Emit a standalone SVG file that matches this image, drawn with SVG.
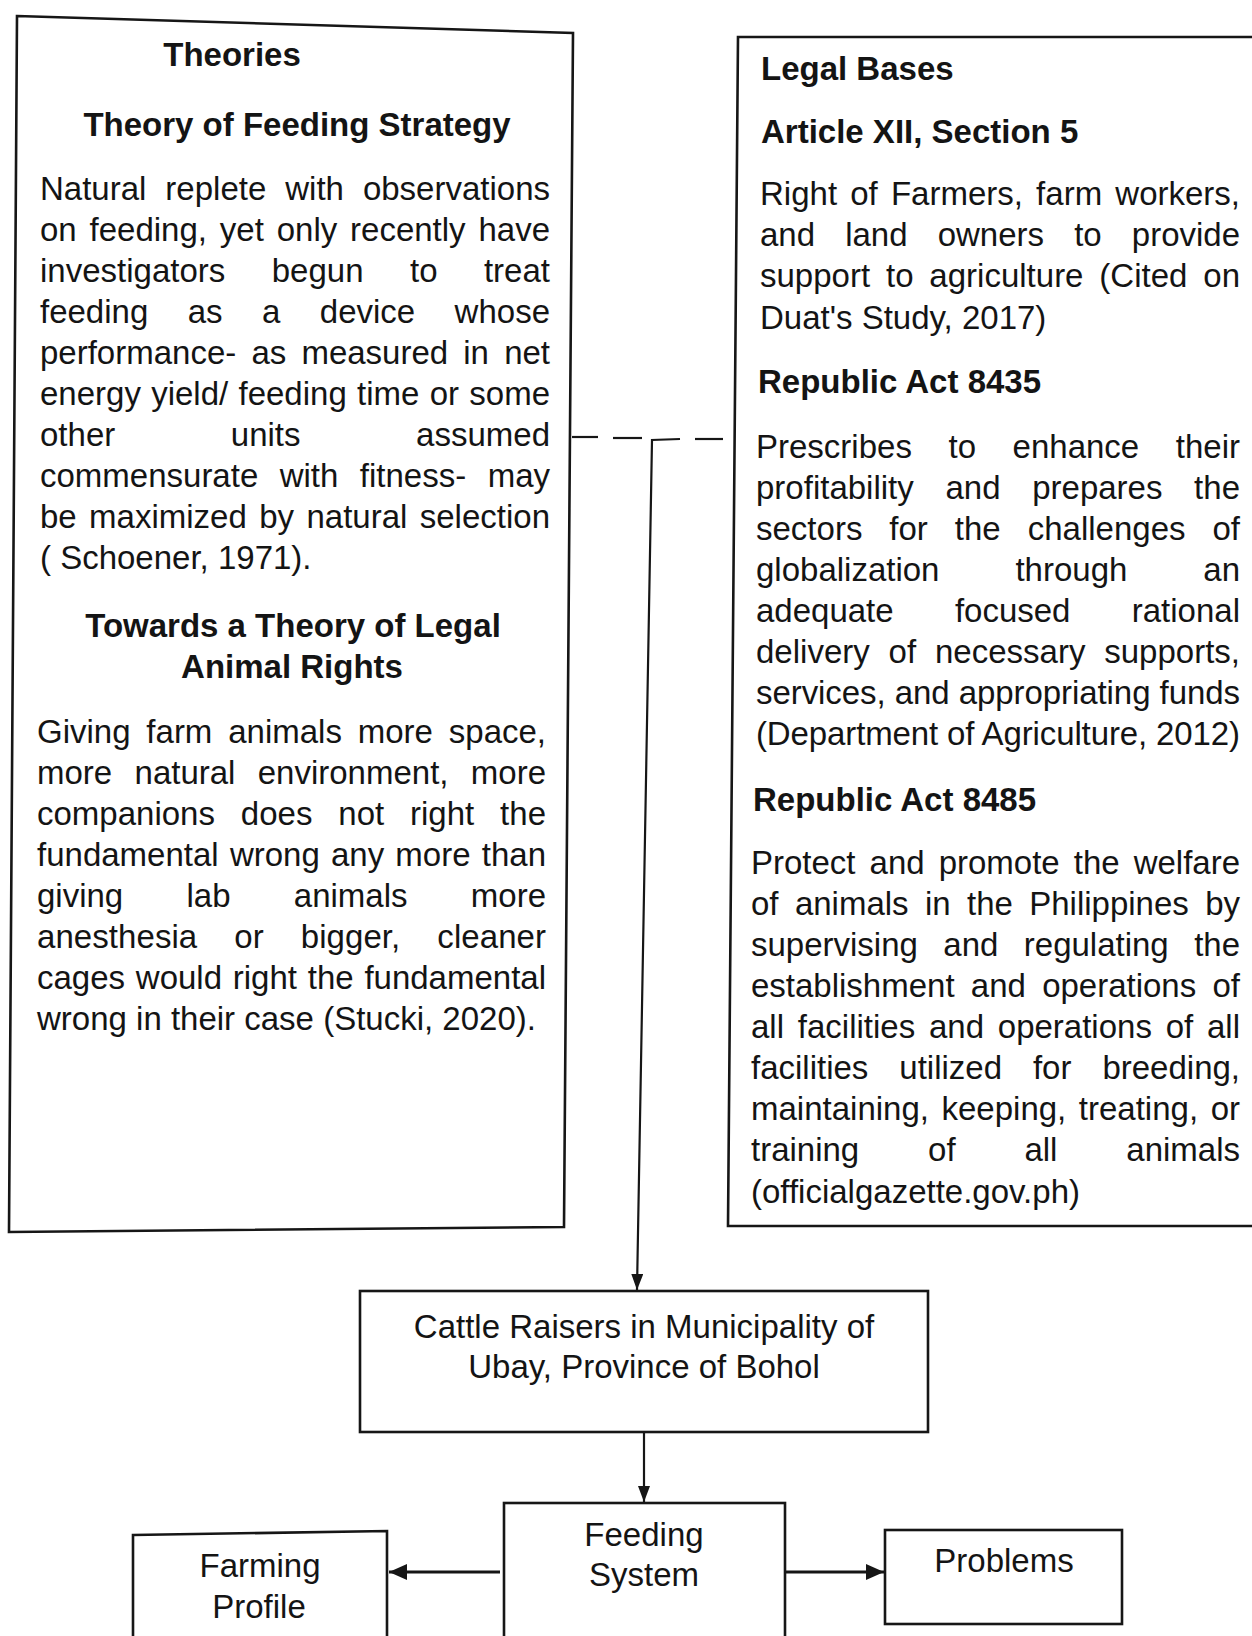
<svg xmlns="http://www.w3.org/2000/svg" width="1252" height="1636" viewBox="0 0 1252 1636">
<defs>
<style>
text{font-family:"Liberation Sans",Arial,sans-serif;font-size:33px;fill:#141414}
.h{font-weight:bold}
.c{text-anchor:middle}
.box{fill:none;stroke:#161616;stroke-width:2.6}
.con{fill:none;stroke:#161616;stroke-width:2.2}
.thick{stroke-width:3.2}
</style>
<marker id="ah" viewBox="0 0 16 12" refX="16" refY="6" markerWidth="16" markerHeight="12" orient="auto" markerUnits="userSpaceOnUse">
<path d="M0,0 L16,6 L0,12 z" fill="#161616"/>
</marker>
<marker id="ahb" viewBox="0 0 18 16" refX="18" refY="8" markerWidth="18" markerHeight="16" orient="auto" markerUnits="userSpaceOnUse">
<path d="M0,0 L18,8 L0,16 z" fill="#161616"/>
</marker>
</defs>
<rect width="1252" height="1636" fill="#ffffff"/>

<g id="theories">
<polygon class="box" points="17,16 573,33 564,1227 9,1232"/>
<text class="h c" x="232" y="66">Theories</text>
<text class="h c" x="297" y="136">Theory of Feeding Strategy</text>
<text x="40" y="200" textLength="510" lengthAdjust="spacing" style="word-spacing:9.8px">Natural replete with observations</text>
<text x="40" y="241" textLength="510" lengthAdjust="spacing" style="word-spacing:3.7px">on feeding, yet only recently have</text>
<text x="40" y="282" textLength="510" lengthAdjust="spacing" style="word-spacing:37.3px">investigators begun to treat</text>
<text x="40" y="323" textLength="510" lengthAdjust="spacing" style="word-spacing:30.3px">feeding as a device whose</text>
<text x="40" y="364" textLength="510" lengthAdjust="spacing" style="word-spacing:6px">performance- as measured in net</text>
<text x="40" y="405" textLength="510" lengthAdjust="spacing" style="word-spacing:1.1px">energy yield/ feeding time or some</text>
<text x="40" y="446" textLength="510" lengthAdjust="spacing" style="word-spacing:106.4px">other units assumed</text>
<text x="40" y="487" textLength="510" lengthAdjust="spacing" style="word-spacing:12.3px">commensurate with fitness- may</text>
<text x="40" y="528" textLength="510" lengthAdjust="spacing" style="word-spacing:3.2px">be maximized by natural selection</text>
<text x="40" y="569">( Schoener, 1971).</text>
<text class="h c" x="293" y="637">Towards a Theory of Legal</text>
<text class="h c" x="292" y="678">Animal Rights</text>
<text x="37" y="743" textLength="509" lengthAdjust="spacing" style="word-spacing:6.7px">Giving farm animals more space,</text>
<text x="37" y="784" textLength="509" lengthAdjust="spacing" style="word-spacing:13.2px">more natural environment, more</text>
<text x="37" y="825" textLength="509" lengthAdjust="spacing" style="word-spacing:16.7px">companions does not right the</text>
<text x="37" y="866" textLength="509" lengthAdjust="spacing" style="word-spacing:2px">fundamental wrong any more than</text>
<text x="37" y="907" textLength="509" lengthAdjust="spacing" style="word-spacing:54.1px">giving lab animals more</text>
<text x="37" y="948" textLength="509" lengthAdjust="spacing" style="word-spacing:27.8px">anesthesia or bigger, cleaner</text>
<text x="37" y="989" textLength="509" lengthAdjust="spacing" style="word-spacing:1.6px">cages would right the fundamental</text>
<text x="37" y="1030">wrong in their case (Stucki, 2020).</text>
</g>

<g id="legal-bases">
<polygon class="box" points="738,37 1262,37 1262,1226 728,1226"/>
<text class="h" x="761" y="80">Legal Bases</text>
<text class="h" x="761" y="143">Article XII, Section 5</text>
<text x="760" y="205" textLength="480" lengthAdjust="spacing" style="word-spacing:4px">Right of Farmers, farm workers,</text>
<text x="760" y="246" textLength="480" lengthAdjust="spacing" style="word-spacing:21px">and land owners to provide</text>
<text x="760" y="287" textLength="480" lengthAdjust="spacing" style="word-spacing:6.7px">support to agriculture (Cited on</text>
<text x="760" y="329">Duat's Study, 2017)</text>
<text class="h" x="758" y="393">Republic Act 8435</text>
<text x="756" y="458" textLength="484" lengthAdjust="spacing" style="word-spacing:27.4px">Prescribes to enhance their</text>
<text x="756" y="499" textLength="484" lengthAdjust="spacing" style="word-spacing:22.5px">profitability and prepares the</text>
<text x="756" y="540" textLength="484" lengthAdjust="spacing" style="word-spacing:17.8px">sectors for the challenges of</text>
<text x="756" y="581" textLength="484" lengthAdjust="spacing" style="word-spacing:66.8px">globalization through an</text>
<text x="756" y="622" textLength="484" lengthAdjust="spacing" style="word-spacing:52.1px">adequate focused rational</text>
<text x="756" y="663" textLength="484" lengthAdjust="spacing" style="word-spacing:9.7px">delivery of necessary supports,</text>
<text x="756" y="704" textLength="484" lengthAdjust="spacing">services, and appropriating funds</text>
<text x="756" y="745" textLength="484" lengthAdjust="spacing">(Department of Agriculture, 2012)</text>
<text class="h" x="753" y="811">Republic Act 8485</text>
<text x="751" y="874" textLength="489" lengthAdjust="spacing" style="word-spacing:4.9px">Protect and promote the welfare</text>
<text x="751" y="915" textLength="489" lengthAdjust="spacing" style="word-spacing:7.2px">of animals in the Philippines by</text>
<text x="751" y="956" textLength="489" lengthAdjust="spacing" style="word-spacing:16.3px">supervising and regulating the</text>
<text x="751" y="997" textLength="489" lengthAdjust="spacing" style="word-spacing:7.1px">establishment and operations of</text>
<text x="751" y="1038" textLength="489" lengthAdjust="spacing" style="word-spacing:4.6px">all facilities and operations of all</text>
<text x="751" y="1079" textLength="489" lengthAdjust="spacing" style="word-spacing:21.8px">facilities utilized for breeding,</text>
<text x="751" y="1120" textLength="489" lengthAdjust="spacing" style="word-spacing:3.4px">maintaining, keeping, treating, or</text>
<text x="751" y="1161" textLength="489" lengthAdjust="spacing" style="word-spacing:59.7px">training of all animals</text>
<text x="751" y="1203">(officialgazette.gov.ph)</text>
</g>

<g id="cattle-raisers">
<rect class="box" x="360" y="1291" width="568" height="141"/>
<text class="c" x="644" y="1338">Cattle Raisers in Municipality of</text>
<text class="c" x="644" y="1378">Ubay, Province of Bohol</text>
</g>

<g id="feeding-system">
<rect class="box" x="504" y="1503" width="281" height="150"/>
<text class="c" x="644" y="1546">Feeding</text>
<text class="c" x="644" y="1586">System</text>
</g>

<g id="farming-profile">
<polygon class="box" points="133,1535 387,1531 387,1650 133,1650"/>
<text class="c" x="260" y="1577">Farming</text>
<text class="c" x="259" y="1618">Profile</text>
</g>

<g id="problems">
<rect class="box" x="885" y="1530" width="237" height="94"/>
<text class="c" x="1004" y="1572">Problems</text>
</g>

<g id="connectors">
<line class="con" x1="572" y1="437" x2="598" y2="437"/>
<line class="con" x1="613" y1="438" x2="642" y2="438"/>
<line class="con" x1="695" y1="439" x2="723" y2="439"/>
<path class="con" d="M680,439 L652,440 L637,1290" marker-end="url(#ah)"/>
<path class="con" d="M644,1432 L644,1502" marker-end="url(#ah)"/>
<path class="con thick" d="M500,1572 L389,1572" marker-end="url(#ahb)"/>
<path class="con thick" d="M785,1572 L884,1572" marker-end="url(#ahb)"/>
</g>
</svg>
